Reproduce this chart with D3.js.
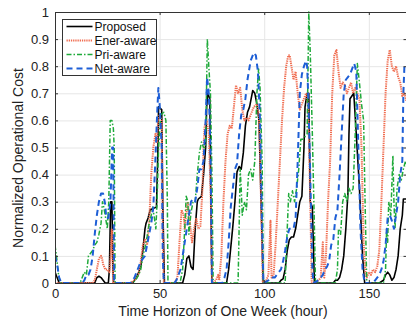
<!DOCTYPE html>
<html>
<head>
<meta charset="utf-8">
<script src="https://cdn.jsdelivr.net/npm/d3@7"></script>
<style>
    body { margin: 0; background: #fff; }
    svg { display: block; font-family: "Liberation Sans", Arial, sans-serif; }
</style>
</head>
<body>
<svg id="chart" width="406" height="324"></svg>
<script>
// Each series as [hour, normalized cost] breakpoints
const proposed = [
    [0, 0.04], [1, 0.02], [2, 0], [19, 0], [20, 0.02], [21, 0.025], [22, 0.02], [23, 0.01], [24, 0], [25.5, 0],
    [26, 0.05], [26.6, 0.3], [27.2, 0.3], [27.7, 0.05], [28, 0],
    [37, 0], [39, 0.02], [41, 0.06], [42, 0.12], [43, 0.2], [43.5, 0.22], [44.5, 0.24], [45.5, 0.27], [48.5, 0.28],
    [49.2, 0.5], [49.5, 0.65], [51, 0.64], [51.5, 0.3], [52.3, 0],
    [61, 0], [62, 0.03], [63, 0.09], [64, 0.1], [65, 0.06], [66, 0.05], [67, 0.2], [68, 0.3], [68.5, 0.31], [70, 0.32],
    [71, 0.4], [72, 0.5], [72.5, 0.65], [73, 0.7], [74, 0.68], [74.5, 0.3], [75, 0],
    [82, 0], [83, 0.05], [84, 0.13], [85, 0.21], [86, 0.3], [87, 0.41], [88, 0.43], [89, 0.42], [90, 0.48], [91, 0.58],
    [92, 0.63], [93, 0.65], [94.5, 0.71], [95.5, 0.7], [96.5, 0.66], [97.5, 0.6], [99.5, 0],
    [107, 0], [108, 0.01], [109, 0.015], [110, 0.05], [111, 0.12], [112, 0.16], [113, 0.17], [114, 0.17], [115, 0.2],
    [116, 0.25], [117, 0.3], [118, 0.32], [119, 0.5], [119.5, 0.65], [120.5, 0.7], [121.3, 0.7], [122, 0.3], [123, 0.28], [124, 0],
    [133, 0], [134, 0.01], [135, 0.01], [136, 0.02], [137, 0.05], [138, 0.1], [139, 0.2], [140, 0.33], [140.5, 0.55],
    [141, 0.68], [142.8, 0.7], [144, 0.55], [145.5, 0.35], [147, 0.1], [148, 0],
    [155, 0], [157, 0.01], [158, 0.03], [159, 0.04], [160, 0.03], [161, 0.01], [162, 0.02], [163, 0.05], [164, 0.1],
    [165, 0.2], [166, 0.25], [166.5, 0.31], [168, 0.31]
];

const enerAware = [
    [0, 0], [18, 0], [19, 0.01], [20, 0.05], [21, 0.09], [22, 0.1], [22.5, 0.09], [23, 0.07], [24, 0.05], [25, 0.05],
    [26, 0.04], [26.6, 0.1], [27.2, 0.2], [27.8, 0],
    [36, 0], [38, 0.01], [40, 0.03], [41, 0.08], [42, 0.14], [43, 0.16], [44, 0.14], [45, 0.22], [46, 0.4], [47, 0.5],
    [48, 0.55], [48.7, 0.52], [49.3, 0.6], [50, 0.62], [51, 0.6], [51.5, 0.2], [52, 0],
    [57, 0], [58.5, 0.02], [59.5, 0.15], [60.5, 0.27], [61.5, 0.25], [62, 0.2], [63, 0.28], [63.5, 0.3], [64.5, 0.22],
    [65.5, 0.15], [66.5, 0.2], [67.5, 0.24], [68.5, 0.2], [69.5, 0.21], [70.5, 0.35], [71, 0.5], [71.5, 0.58],
    [72.5, 0.6], [73.5, 0.55], [74.5, 0.3], [75, 0],
    [77, 0.01], [78, 0.03], [78.5, 0.01], [79.5, 0.1], [80.5, 0.3], [81.5, 0.45], [82.5, 0.55], [83.5, 0.58],
    [84.5, 0.57], [85.5, 0.65], [86.5, 0.73], [87.5, 0.7], [88.5, 0.72], [89.5, 0.64], [90.5, 0.6], [91.5, 0.61],
    [92.5, 0.6], [93.5, 0.62], [95, 0.65], [96.5, 0.66], [97.5, 0.62], [98.5, 0.3], [99.3, 0],
    [101, 0.01], [102, 0.03], [103, 0.23], [103.5, 0.02], [104.5, 0.03], [105.5, 0.15], [106.5, 0.3], [107.5, 0.45],
    [108.5, 0.6], [109.5, 0.72], [110.5, 0.8], [111.5, 0.84], [112.2, 0.84], [113, 0.8], [114, 0.75], [115, 0.78],
    [116, 0.7], [117, 0.64], [118, 0.66], [119, 0.68], [120, 0.7], [121, 0.66], [122, 0.3], [122.7, 0],
    [126, 0.01], [127, 0.02], [128, 0.15], [128.7, 0.02], [129.5, 0.1], [130.5, 0.3], [131.5, 0.45], [132.5, 0.7],
    [133.5, 0.84], [134.5, 0.86], [135.5, 0.78], [136.5, 0.72], [137.5, 0.74], [138.5, 0.73], [139.5, 0.7],
    [140.5, 0.72], [141.5, 0.74], [142.5, 0.7], [143.5, 0.72], [144.5, 0.7], [145.5, 0.68], [146.5, 0.5],
    [147.5, 0.15], [148.5, 0.03],
    [149, 0.02], [150, 0.04], [151, 0.03], [152, 0.05], [153, 0.04], [154, 0.06], [155, 0.12], [156, 0.3], [157, 0.5],
    [158, 0.7], [159, 0.82], [160, 0.86], [161, 0.8], [162, 0.78], [163, 0.8], [164, 0.76], [165, 0.74], [166, 0.69],
    [167, 0.7], [168, 0.67]
];

const priAware = [
    [0, 0.14], [0.7, 0.1], [1.5, 0.04], [2.5, 0], [12, 0], [13, 0.02], [14, 0.04], [15, 0.03], [16, 0.1], [17, 0.11],
    [18, 0.12], [19, 0.14], [20, 0.15], [21, 0.18], [22, 0.22], [22.7, 0.3], [23.3, 0.28], [24, 0.25], [25, 0.2],
    [25.7, 0.3], [26.4, 0.6], [27.2, 0.6], [27.9, 0.57], [28.3, 0.5], [28.7, 0],
    [37, 0], [38.5, 0.01], [40, 0.03], [41, 0.05], [42, 0.1], [43, 0.13], [44, 0.17], [45, 0.22], [46, 0.25],
    [46.7, 0.28], [47.5, 0.24], [48.2, 0.2], [48.8, 0.3], [49.5, 0.5], [50.5, 0.62], [52, 0.63], [53, 0.6],
    [53.7, 0.3], [54, 0],
    [59, 0], [60, 0.01], [61, 0.05], [62, 0.2], [62.7, 0.32], [63.5, 0.3], [64, 0.18], [65, 0.26], [66, 0.3],
    [67, 0.3], [68, 0.4], [69, 0.48], [70, 0.52], [71, 0.5], [72, 0.5], [72.8, 0.9], [73.5, 0.8], [74.3, 0.7],
    [75, 0.4], [75.6, 0],
    [87.5, 0], [88, 0.2], [88.5, 0.42], [89, 0.35], [89.5, 0.25], [90.5, 0.3], [91.5, 0.27], [92.5, 0.4],
    [93.5, 0.42], [94.5, 0.38], [95.5, 0.45], [96.5, 0.7], [97.3, 0.79], [98, 0.72], [99, 0.45], [99.6, 0],
    [110, 0], [110.5, 0.1], [111, 0.2], [111.7, 0.33], [112.5, 0.3], [113.5, 0.34], [114.5, 0.3], [115.5, 0.35],
    [116.5, 0.42], [117.5, 0.53], [118.5, 0.53], [119.5, 0.54], [120.5, 0.55], [121.3, 1.0], [122, 0.85],
    [123, 0.55], [124, 0.2], [124.5, 0],
    [134, 0], [135, 0.05], [135.5, 0.2], [136.5, 0.18], [137.5, 0.3], [138.5, 0.33], [139.5, 0.3], [140.5, 0.35],
    [141.5, 0.33], [142.5, 0.35], [143.5, 0.55], [144.5, 0.81], [145.5, 0.74], [146.5, 0.66], [147.5, 0.6],
    [148.2, 0.3], [149, 0],
    [157, 0], [158, 0.05], [158.5, 0.2], [159, 0.15], [159.5, 0.3], [160.5, 0.25], [161.5, 0.47], [162, 0.3],
    [162.5, 0.2], [163.5, 0.35], [164.5, 0.4], [165.5, 0.38], [166.5, 0.42], [167.5, 0.45], [168, 0.43]
];

const netAware = [
    [0, 0.1], [1, 0.07], [2, 0.02], [3, 0], [13, 0], [14, 0.01], [15, 0.03], [16, 0.03], [17, 0.05], [18, 0.1],
    [19, 0.18], [20, 0.25], [21, 0.3], [22, 0.33], [23, 0.33], [24, 0.29], [24.5, 0.24], [25.5, 0.24], [26.5, 0.3],
    [27.3, 0.5], [27.8, 0.5], [28.3, 0],
    [36, 0], [37, 0.01], [38, 0.02], [39, 0.04], [40, 0.06], [41, 0.08], [42, 0.09], [43, 0.1], [44, 0.14],
    [45, 0.18], [46, 0.22], [47, 0.28], [48, 0.46], [48.8, 0.62], [49.4, 0.72], [50, 0.66], [51, 0.5], [51.5, 0.1], [52, 0],
    [57, 0], [58, 0.01], [59, 0.03], [60, 0.05], [61, 0.1], [62, 0.15], [63, 0.2], [64, 0.25], [65, 0.3], [66, 0.31],
    [67, 0.3], [68, 0.35], [69, 0.42], [70, 0.42], [71, 0.45], [72, 0.6], [72.7, 0.76], [73.5, 0.7], [74.3, 0.5], [75, 0],
    [80, 0], [81, 0.02], [82, 0.05], [83, 0.15], [84, 0.28], [85, 0.35], [86, 0.42], [87, 0.44], [88, 0.55],
    [89, 0.62], [90, 0.64], [91, 0.68], [92, 0.75], [93.5, 0.82], [95, 0.85], [96, 0.84], [97, 0.78], [98, 0.6],
    [99, 0.2], [99.6, 0],
    [102, 0.01], [103, 0.02], [105, 0.02], [106, 0.03], [107, 0.04], [108, 0.05], [109, 0.08], [110, 0.12],
    [111, 0.17], [112, 0.2], [113, 0.2], [114, 0.2], [115, 0.24], [116, 0.45], [117, 0.7], [118, 0.77], [119, 0.8],
    [120, 0.82], [120.5, 0.8], [121, 0.7], [122, 0.4], [123, 0.05], [123.5, 0],
    [126, 0.01], [127, 0.02], [128, 0.03], [129, 0.05], [130, 0.06], [131, 0.08], [132, 0.14], [133, 0.16],
    [134, 0.24], [135, 0.27], [136, 0.4], [137, 0.55], [138, 0.7], [139, 0.75], [140, 0.76], [141, 0.77],
    [142, 0.79], [143, 0.81], [144, 0.78], [145, 0.5], [146, 0.2], [147, 0.05], [148, 0],
    [152, 0], [153, 0.01], [154, 0.02], [155, 0.03], [156, 0.05], [157, 0.08], [158, 0.14], [159, 0.24],
    [160, 0.25], [161, 0.23], [162, 0.2], [163, 0.25], [164, 0.3], [165, 0.4], [166, 0.45], [166.5, 0.7],
    [167, 0.8], [168, 0.8]
];

const seriesNames = ["Proposed", "Ener-aware", "Pri-aware", "Net-aware"];
const xTicks = [0, 50, 100, 150];
const yTicks = [0, 0.1, 0.2, 0.3, 0.4, 0.5, 0.6, 0.7, 0.8, 0.9, 1];

const styles = {
    "Proposed":   {color: "#000000", width: 1.6, dash: null},
    "Ener-aware": {color: "#f06d50", width: 2, dash: "1.3,0.9"},
    "Pri-aware":  {color: "#1faa3a", width: 1.5, dash: "5,2,1.5,2"},
    "Net-aware":  {color: "#1d5ed6", width: 2, dash: "6,4"}
};

const svg = d3.select("#chart");
const margin = {top: 12, right: 0, bottom: 41, left: 55};
const width = 351.5;
const height = 283 - margin.top;

const x = d3.scaleLinear().domain([0, 168]).range([0, width]);
const y = d3.scaleLinear().domain([0, 1]).range([height, 0]);

const g = svg.append("g")
    .attr("transform", `translate(${margin.left}, ${margin.top})`);

g.append("rect")
    .attr("width", width)
    .attr("height", height)
    .attr("fill", "#fff");

// Light grid
g.append("g")
    .attr("class", "grid")
    .call(d3.axisLeft(y).tickValues(yTicks).tickSize(-width).tickFormat(""))
    .call(s => s.select(".domain").remove())
    .call(s => s.selectAll("line").attr("stroke", "#e6e6e6"));

g.append("g")
    .attr("class", "grid")
    .attr("transform", `translate(0, ${height})`)
    .call(d3.axisBottom(x).tickValues(xTicks).tickSize(-height).tickFormat(""))
    .call(s => s.select(".domain").remove())
    .call(s => s.selectAll("line").attr("stroke", "#e6e6e6"));

g.append("defs").append("clipPath")
    .attr("id", "plot-clip")
    .append("rect")
    .attr("width", width)
    .attr("height", height + 2)
    .attr("y", -1);

let line = d3.line()
    .x(d => x(d[0]))
    .y(d => y(d[1]));

let dataByName = {
    "Proposed": proposed,
    "Ener-aware": enerAware,
    "Pri-aware": priAware,
    "Net-aware": netAware
};

let lines = g.append("g").attr("clip-path", "url(#plot-clip)");
seriesNames.forEach(name => {
    let st = styles[name];
    lines.append("path")
        .datum(dataByName[name])
        .attr("fill", "none")
        .attr("stroke", st.color)
        .attr("stroke-width", st.width)
        .attr("stroke-dasharray", st.dash)
        .attr("stroke-linejoin", "round")
        .attr("d", line);
});

// Axes with inward ticks, matlab style
let styleAxis = s => {
    s.select(".domain").attr("stroke", "#333");
    s.selectAll(".tick line").attr("stroke", "#333");
    s.selectAll("text")
        .attr("fill", "#222")
        .style("font-size", "13px");
};

g.append("g")
    .attr("transform", `translate(0, ${height})`)
    .call(d3.axisBottom(x).tickValues(xTicks).tickSizeInner(-3).tickSizeOuter(0).tickPadding(6))
    .call(styleAxis);

g.append("g")
    .call(d3.axisLeft(y).tickValues(yTicks).tickSizeInner(-3).tickSizeOuter(0).tickPadding(6)
        .tickFormat(d3.format("~g")))
    .call(styleAxis);

g.append("g")
    .call(d3.axisTop(x).tickValues(xTicks).tickSizeInner(-3).tickSizeOuter(0).tickFormat(""))
    .call(styleAxis);

g.append("g")
    .attr("transform", `translate(${width}, 0)`)
    .call(d3.axisRight(y).tickValues(yTicks).tickSizeInner(-3).tickSizeOuter(0).tickFormat(""))
    .call(styleAxis);

// Axis titles
svg.append("text")
    .attr("x", 223)
    .attr("y", 316)
    .attr("text-anchor", "middle")
    .style("font-size", "14px")
    .attr("fill", "#222")
    .text("Time Horizon of One Week (hour)");

svg.append("text")
    .attr("transform", "translate(23, 158) rotate(-90)")
    .attr("text-anchor", "middle")
    .style("font-size", "14px")
    .attr("fill", "#222")
    .text("Normalized Operational Cost");

// Legend
let legend = svg.append("g").attr("transform", "translate(62.5, 19.5)");
legend.append("rect")
    .attr("width", 94)
    .attr("height", 56)
    .attr("fill", "#fff")
    .attr("stroke", "#333");

seriesNames.forEach((name, i) => {
    let st = styles[name];
    let row = legend.append("g").attr("transform", `translate(0, ${7 + i * 14})`);
    row.append("line")
        .attr("x1", 4)
        .attr("x2", 30)
        .attr("stroke", st.color)
        .attr("stroke-width", st.width)
        .attr("stroke-dasharray", st.dash);
    row.append("text")
        .attr("x", 32)
        .attr("dy", "0.35em")
        .style("font-size", "12px")
        .attr("fill", "#111")
        .text(name);
});
</script>
</body>
</html>
